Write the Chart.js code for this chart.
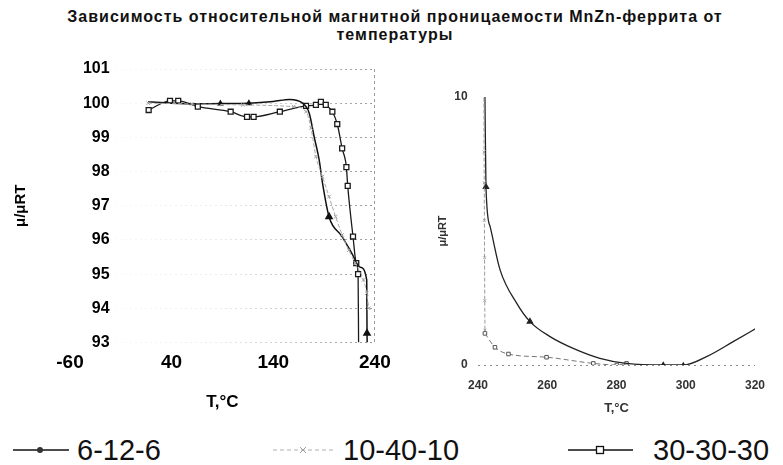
<!DOCTYPE html>
<html>
<head>
<meta charset="utf-8">
<script src="https://cdn.jsdelivr.net/npm/chart.js@4/dist/chart.umd.min.js"></script>
<style>
  body { margin: 0; background: #fff; width: 783px; height: 465px; position: relative; overflow: hidden;
         font-family: 'Liberation Sans', Arial, sans-serif; }
  #title { position: absolute; left: 0; width: 790px; top: 8px; text-align: center; font-weight: bold;
           font-size: 16px; line-height: 18px; letter-spacing: 1px; color: #111; }
  #left { position: absolute; left: 0; top: 45px; }
  #right { position: absolute; left: 400px; top: 45px; }
  .leg { position: absolute; top: 432px; height: 36px; display: flex; align-items: center;
         font-size: 29px; color: #111; white-space: nowrap; }
  .leg svg { display: block; }
</style>
</head>
<body>
<div id="title">Зависимость относительной магнитной проницаемости MnZn-феррита от<br>температуры</div>
<canvas id="left" width="400" height="375"></canvas>
<canvas id="right" width="383" height="375"></canvas>
<div id="legend"></div>
<script>
// series names
const seriesNames = ['6-12-6', '10-40-10', '30-30-30'];

// left panel: T, °C and mu/muRT
const tempL1 = [17, 40, 65, 88, 116, 140, 156, 169, 175.5, 180.4, 185.2, 188.5, 194.9, 207.8, 217.5, 225.6, 232, 232.3, 232.5];
const muL1 = [100.04, 100.0, 99.98, 99.99, 100.0, 100.05, 100.11, 100.0, 99.7, 99.0, 98.34, 97.66, 96.68, 96.1, 95.6, 95.2, 94.83, 93.27, 93.0];

const tempL2 = [17, 60, 110, 160, 172.3, 177.2, 182, 188.5, 194.9, 201.4, 207.8, 214.3, 220.7, 228.8, 232, 234];
const muL2 = [100.0, 99.98, 99.95, 99.9, 99.75, 99.27, 98.44, 97.85, 97.27, 96.68, 96.15, 95.7, 95.32, 94.83, 94.44, 94.0];

const tempL3 = [17.4, 38.4, 46.5, 65.8, 98.1, 114.2, 120.7, 146.5, 172.3, 182, 186.9, 191.7, 198.2, 203, 207.8, 212, 213.3, 218.5, 221.7, 223.5, 224];
const muL3 = [99.8, 100.07, 100.07, 99.9, 99.75, 99.6, 99.6, 99.75, 99.92, 99.95, 100.04, 99.95, 99.75, 99.39, 98.68, 98.13, 97.58, 96.1, 95.32, 95.0, 93.0];

// right panel
const tempR1 = [242.0, 242.3, 243.5, 246.4, 251.2, 255, 260.8, 267.5, 275.2, 282.9, 293.5, 299.3, 306, 313.7, 320.4];
const muR1 = [10.1, 6.65, 5.16, 3.54, 2.3, 1.62, 1.06, 0.62, 0.25, 0.06, 0.0, 0.0, 0.31, 0.87, 1.37];

const tempR2 = [241.7, 241.75, 241.8, 241.85, 241.9, 241.95, 242.0];
const muR2 = [10.2, 7.95, 6.8, 5.4, 4.0, 2.4, 1.3];

const tempR3 = [242, 244.9, 248.8, 259.8, 273.3, 280.1, 282.9];
const muR3 = [1.18, 0.66, 0.41, 0.29, 0.06, 0.0, 0.06];

// tick labels
const xTicksL = [-60, 40, 140, 240];
const xTicksR = [240, 260, 280, 300, 320];

const FONT = "'Liberation Sans', Arial, sans-serif";

function pts(xs, ys) {
  return xs.map((x, i) => ({ x: x, y: ys[i] }));
}

// scanned grid is only visible on the right side of the plot
function fadeGrid(context) {
  const chart = context.chart;
  const area = chart.chartArea;
  if (!area) return 'rgba(0,0,0,0)';
  const g = chart.ctx.createLinearGradient(area.left, 0, area.right, 0);
  g.addColorStop(0, 'rgba(0,0,0,0)');
  g.addColorStop(0.5, 'rgba(0,0,0,0.08)');
  g.addColorStop(1, 'rgba(0,0,0,0.4)');
  return g;
}

new Chart(document.getElementById('left'), {
  type: 'line',
  data: {
    datasets: [
      {
        label: seriesNames[1], data: pts(tempL2, muL2),
        borderColor: '#a8a8a8', borderWidth: 1, borderDash: [4, 2],
        pointStyle: 'crossRot', pointRadius: 2.5, pointBorderColor: '#a0a0a0', pointBorderWidth: 1,
        cubicInterpolationMode: 'monotone'
      },
      {
        label: seriesNames[0], data: pts(tempL1, muL1),
        borderColor: '#111', borderWidth: 1.5,
        pointStyle: 'triangle', pointRadius: [0, 0, 0, 2.5, 2.5, 0, 0, 0, 0, 0, 0, 0, 3.5, 0, 0, 0, 0, 3.5, 0],
        pointBackgroundColor: '#111', pointBorderColor: '#111',
        cubicInterpolationMode: 'monotone'
      },
      {
        label: seriesNames[2], data: pts(tempL3, muL3),
        borderColor: '#1a1a1a', borderWidth: 1.3,
        pointStyle: 'rect', pointRadius: [3.5, 3.5, 3.5, 3.5, 3.5, 3.5, 3.5, 3.5, 3.5, 3.5, 3.5, 3.5, 3.5, 3.5, 3.5, 3.5, 3.5, 3.5, 3.5, 3.5, 0],
        pointBackgroundColor: '#fff', pointBorderColor: '#1a1a1a', pointBorderWidth: 1.3,
        cubicInterpolationMode: 'monotone'
      }
    ]
  },
  options: {
    responsive: false,
    animation: false,
    layout: { padding: { top: 24, right: 20, left: 11.6, bottom: 7.8 } },
    plugins: { legend: { display: false }, tooltip: { enabled: false } },
    scales: {
      x: {
        type: 'linear', min: -60, max: 240,
        afterBuildTicks: s => { s.ticks = xTicksL.map(v => ({ value: v })); },
        afterFit: s => { s.height = 69.7; },
        ticks: { padding: 9.3, color: '#000', font: { family: FONT, size: 19, weight: 'bold' } },
        grid: { drawTicks: false, color: c => (c.tick && c.tick.value === 240 ? '#9a9a9a' : 'rgba(0,0,0,0)') },
        border: { display: false, dash: [3, 3] },
        title: { display: true, text: 'T,°C', color: '#000', padding: 0, font: { family: FONT, size: 17, weight: 'bold' } }
      },
      y: {
        type: 'linear', position: { x: -21 }, min: 93, max: 101,
        ticks: { stepSize: 1, padding: 0, color: '#000', font: { family: FONT, size: 16, weight: 'bold' } },
        grid: { drawTicks: false, color: fadeGrid },
        border: { display: false, dash: [2, 3] }
      },
      yt: {
        type: 'linear', position: 'left',
        afterFit: s => { s.width = 58.4; },
        ticks: { display: false },
        grid: { display: false, drawTicks: false },
        border: { display: false },
        title: { display: true, text: 'μ/μRT', color: '#000', padding: 0, font: { family: FONT, size: 15, weight: 'bold' } }
      }
    }
  }
});

new Chart(document.getElementById('right'), {
  type: 'line',
  data: {
    datasets: [
      {
        label: seriesNames[1], data: pts(tempR2, muR2),
        borderColor: '#9a9a9a', borderWidth: 1, borderDash: [4, 2],
        pointStyle: 'crossRot', pointRadius: 2, pointBorderColor: '#a0a0a0', pointBorderWidth: 1,
        tension: 0
      },
      {
        label: seriesNames[0], data: pts(tempR1, muR1),
        borderColor: '#222', borderWidth: 1.3,
        pointStyle: 'triangle', pointRadius: [0, 3, 0, 0, 0, 3, 0, 0, 0, 0, 2.5, 2, 0, 0, 0],
        pointBackgroundColor: '#222', pointBorderColor: '#222',
        cubicInterpolationMode: 'monotone'
      },
      {
        label: seriesNames[2], data: pts(tempR3, muR3),
        borderColor: '#777', borderWidth: 1, borderDash: [5, 3],
        pointStyle: 'rect', pointRadius: 2.5,
        pointBackgroundColor: '#fff', pointBorderColor: '#555', pointBorderWidth: 1,
        cubicInterpolationMode: 'monotone'
      }
    ]
  },
  options: {
    responsive: false,
    animation: false,
    layout: { padding: { top: 52, right: 28, left: 36.4, bottom: 4.2 } },
    plugins: { legend: { display: false }, tooltip: { enabled: false } },
    scales: {
      x: {
        type: 'linear', min: 240, max: 320,
        afterBuildTicks: s => { s.ticks = xTicksR.map(v => ({ value: v })); },
        afterFit: s => { s.height = 50.8; },
        ticks: { padding: 13.8, color: '#333', font: { family: FONT, size: 12, weight: 'bold' } },
        grid: { display: false, drawTicks: false },
        border: { display: false },
        title: { display: true, text: 'T,°C', color: '#333', padding: 0, font: { family: FONT, size: 13, weight: 'bold' } }
      },
      y: {
        type: 'linear', position: { x: 237 }, min: 0, max: 10,
        ticks: { stepSize: 10, padding: 0, color: '#333', font: { family: FONT, size: 12, weight: 'bold' } },
        grid: { drawTicks: false, color: c => (c.tick && c.tick.value === 0 ? '#8c8c8c' : 'rgba(0,0,0,0)') },
        border: { display: false, dash: [2, 4] }
      },
      yt: {
        type: 'linear', position: 'left',
        afterFit: s => { s.width = 41.6; },
        ticks: { display: false },
        grid: { display: false, drawTicks: false },
        border: { display: false },
        title: { display: true, text: 'μ/μRT', color: '#333', padding: 0, font: { family: FONT, size: 11, weight: 'bold' } }
      }
    }
  }
});

// legend under both panels
const legendX = [13, 273, 568];
const legendSample = [
  '<svg width="56" height="20"><line x1="0" y1="10" x2="56" y2="10" stroke="#111" stroke-width="1.6"/><circle cx="27" cy="10" r="3" fill="#333"/></svg>',
  '<svg width="60" height="20"><line x1="0" y1="10" x2="60" y2="10" stroke="#b0b0b0" stroke-width="1" stroke-dasharray="4 3"/><path d="M27 7 L33 13 M33 7 L27 13" stroke="#a0a0a0" stroke-width="1"/></svg>',
  '<svg width="65" height="20"><line x1="0" y1="10" x2="65" y2="10" stroke="#111" stroke-width="1.3"/><rect x="28.5" y="6.5" width="7" height="7" fill="#fff" stroke="#111" stroke-width="1.3"/></svg>'
];
const legendGap = [8, 10, 20];
const legendEl = document.getElementById('legend');
seriesNames.forEach((name, i) => {
  const item = document.createElement('div');
  item.className = 'leg';
  item.style.left = legendX[i] + 'px';
  item.innerHTML = legendSample[i] + '<span style="margin-left:' + legendGap[i] + 'px">' + name + '</span>';
  legendEl.appendChild(item);
});
</script>
</body>
</html>
